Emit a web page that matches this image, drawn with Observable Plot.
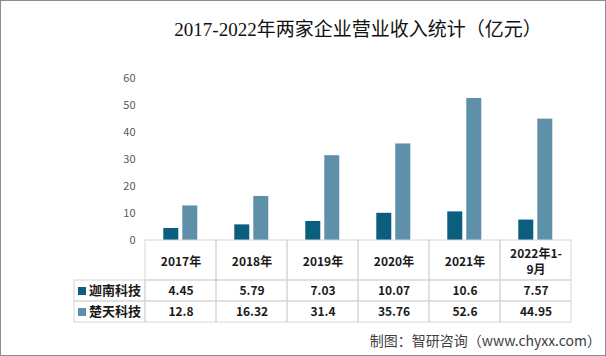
<!DOCTYPE html>
<html>
<head>
<meta charset="utf-8">
<script src="https://cdn.jsdelivr.net/npm/d3@7"></script>
<script src="https://cdn.jsdelivr.net/npm/@observablehq/plot@0.6"></script>
<style>
html, body { margin: 0; padding: 0; background: #fff; }
#wrap { position: relative; width: 606px; height: 356px; overflow: hidden; background: #fff; font-family: "Noto Sans CJK SC", sans-serif; }
#wrap svg { overflow: visible; }
.layer { position: absolute; left: 0; }
#title { position: absolute; top: 19px; left: 158px; width: 400px; text-align: center; font-family: "Liberation Serif", "Noto Sans CJK SC", serif; font-size: 19px; line-height: 22px; color: #111; white-space: nowrap; }
#footer { position: absolute; right: 5px; top: 331px; font-size: 14px; line-height: 18px; color: #404040; white-space: nowrap; }
#frame { position: absolute; left: 0; top: 0; width: 606px; height: 356px; box-sizing: border-box; border: 1px solid #8c8c8c; pointer-events: none; }
</style>
</head>
<body>
<div id="wrap">
  <div id="title">2017-2022年两家企业营业收入统计（亿元）</div>
  <div id="chart" class="layer" style="top:0"></div>
  <div id="hdr" class="layer" style="top:240px"></div>
  <div id="row1" class="layer" style="top:280px"></div>
  <div id="row2" class="layer" style="top:301px"></div>
  <div id="footer">制图：智研咨询（www.chyxx.com）</div>
  <div id="frame"></div>
</div>
<script>
// ---- data ----
const years = ["2017年", "2018年", "2019年", "2020年", "2021年", "2022年1-9月"];
const yearLabels = ["2017年", "2018年", "2019年", "2020年", "2021年", "2022年1-\n9月"];
const series = ["迦南科技", "楚天科技"];
const jiananValues = [4.45, 5.79, 7.03, 10.07, 10.6, 7.57];
const chutianValues = [12.8, 16.32, 31.4, 35.76, 52.6, 44.95];
const yTicks = [0, 10, 20, 30, 40, 50, 60];
const colors = ["#0b5e7e", "#5e91a9"];

// ---- layout ----
const W = 606, tableLeft = 71, tableRight = 33;
const cols = ["", ...years];
const colW = (W - tableLeft - tableRight) / cols.length;
const gridColor = "#d6d6d6";
const textColor = "#1a1a1a";
const font = "'Noto Sans CJK SC', sans-serif";

const valuesBySeries = [jiananValues, chutianValues];
const data = years.flatMap((yr, i) => series.map((s, k) => ({year: yr, series: s, value: valuesBySeries[k][i]})));

// ---- bar chart ----
const chart = Plot.plot({
  width: W, height: 241,
  marginTop: 78, marginBottom: 1,
  marginLeft: tableLeft + colW, marginRight: tableRight,
  style: {background: "transparent", fontFamily: font, overflow: "visible"},
  fx: {domain: years, padding: 0, axis: null},
  x: {domain: series, paddingInner: 0.2, paddingOuter: 0.9, axis: null},
  y: {domain: [0, 60], axis: null},
  color: {domain: series, range: colors},
  marks: [
    Plot.barY(data, {fx: "year", x: "series", y: "value", fill: "series"}),
    Plot.axisY(yTicks, {tickSize: 0, tickPadding: 10, fontSize: 11, fill: "#595959", label: null})
  ]
});
document.getElementById("chart").appendChild(chart);

// ---- table ----
function tableRow(height, marks) {
  return Plot.plot({
    width: W, height,
    margin: 0, marginLeft: tableLeft, marginRight: tableRight,
    style: {background: "transparent", fontFamily: font, overflow: "visible"},
    x: {domain: cols, padding: 0, axis: null},
    marks
  });
}

document.getElementById("hdr").appendChild(tableRow(40, [
  Plot.cell(years, {x: d => d, fill: "none", stroke: gridColor}),
  Plot.text(years, {x: d => d, text: (d, i) => yearLabels[i], fontSize: 12, fontWeight: "bold", lineHeight: 1.35, fill: textColor})
]));

["row1", "row2"].forEach((id, k) => {
  document.getElementById(id).appendChild(tableRow(21, [
    Plot.cell(cols, {x: d => d, fill: "none", stroke: gridColor}),
    Plot.text(years, {x: d => d, text: (d, i) => String(valuesBySeries[k][i]), fontSize: 12, fontWeight: "bold", fill: textColor}),
    Plot.dot([series[k]], {x: () => "", symbol: "square", r: 4.5, fill: colors[k], stroke: null, dx: -28}),
    Plot.text([series[k]], {x: () => "", text: d => d, dx: 5, fontSize: 13, fontWeight: "bold", fill: textColor})
  ]));
});
</script>
</body>
</html>
